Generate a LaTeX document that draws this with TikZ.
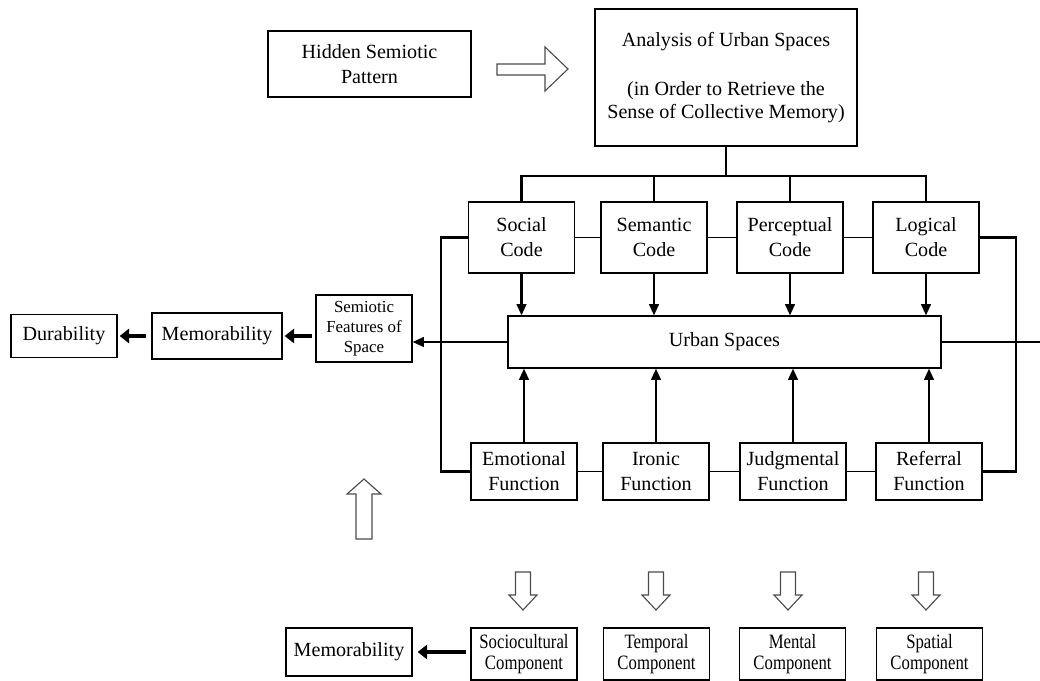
\documentclass[tikz,border=0pt]{standalone}
\usepackage{fontspec}
\setmainfont{Liberation Serif}
\newfontfamily\narrowserif[FakeStretch=0.82]{Liberation Serif}
\usepackage{tikz}
\usetikzlibrary{arrows.meta,calc}

\newcommand{\pu}{0.025cm}
\tikzset{
  blk/.style={draw, line width=0.9pt, align=center, inner sep=1pt,
    font=\fontsize{14.3}{17.8}\selectfont},
  codeblk/.style={blk, minimum width=106*\pu, minimum height=71*\pu},
  funblk/.style={blk, minimum width=106*\pu, minimum height=57*\pu},
  compblk/.style={blk, minimum width=106*\pu, minimum height=52*\pu,
    font=\narrowserif\fontsize{14.5}{15}\selectfont},
  heavy/.style={line width=1.6pt},
  thinlink/.style={line width=0.8pt},
  tiplink/.style={heavy, -{Triangle[length=2.8mm,width=2.4mm]}},
  fatlink/.style={line width=2.8pt, -{Triangle[length=2.4mm,width=3.6mm]}},
  hollow/.style={draw=black!70, line width=0.8pt, fill=white, line join=miter},
}

\begin{document}
\begin{tikzpicture}[x=\pu, y=-\pu]
    \useasboundingbox (0,0) rectangle (1040,681);
    % Top row
    \node[blk, minimum width=203*\pu, minimum height=66*\pu] (hidden) at (369.5,64) {Hidden Semiotic\\Pattern};
    \node[blk, minimum width=262*\pu, minimum height=137*\pu, font=\fontsize{14.3}{16.5}\selectfont] (analysis) at (726,77.5)
      {Analysis of Urban Spaces\\[18pt](in Order to Retrieve the\\Sense of Collective Memory)};
    % Codes
    \node[codeblk] (social) at (521.5,237.5) {Social\\Code};
    \node[codeblk] (semantic) at (654,237.5) {Semantic\\Code};
    \node[codeblk] (perceptual) at (790,237.5) {Perceptual\\Code};
    \node[codeblk] (logical) at (926,237.5) {Logical\\Code};
    % Urban spaces
    \node[blk, minimum width=433*\pu, minimum height=52*\pu] (urban) at (724.5,342) {Urban Spaces};
    % Functions
    \node[funblk] (emotional) at (524,471.5) {Emotional\\Function};
    \node[funblk] (ironic) at (656,471.5) {Ironic\\Function};
    \node[funblk] (judgmental) at (793,471.5) {Judgmental\\Function};
    \node[funblk] (referral) at (929,471.5) {Referral\\Function};
    % Left side
    \node[blk, minimum width=96*\pu, minimum height=67*\pu, font=\fontsize{12}{14.2}\selectfont] (semiotic) at (364,328.5)
      {Semiotic\\Features of\\Space};
    \node[blk, minimum width=130*\pu, minimum height=46*\pu] (memtop) at (217,336) {Memorability};
    \node[blk, minimum width=106*\pu, minimum height=43*\pu] (durability) at (64,336) {Durability};
    % Bottom row
    \node[blk, minimum width=126*\pu, minimum height=48*\pu] (membot) at (349,652) {Memorability};
    \node[compblk] (socio) at (524,654) {Sociocultural\\Component};
    \node[compblk] (temporal) at (656.5,654) {Temporal\\Component};
    \node[compblk] (mental) at (792.5,654) {Mental\\Component};
    \node[compblk] (spatial) at (929.5,654) {Spatial\\Component};

    % Bus under analysis
    \coordinate (bus) at (726,176);
    \draw[heavy] (analysis.south) -- (bus);
    \foreach \n in {social,semantic,perceptual,logical}
      \draw[heavy] (bus) -| (\n.north);
    % Thin links in rows
    \foreach \a/\b in {social/semantic,semantic/perceptual,perceptual/logical,
                       emotional/ironic,ironic/judgmental,judgmental/referral}
      \draw[thinlink] (\a) -- (\b);
    % Side loops
    \draw[heavy] (social.west) -- ++(-27,0) |- (emotional.west);
    \draw[heavy] (logical.east) -- ++(36,0) |- (referral.east);
    % Arrows into urban spaces
    \foreach \n in {social,semantic,perceptual,logical}
      \draw[tiplink] (\n.south) -- (\n.south |- urban.north);
    \foreach \n in {emotional,ironic,judgmental,referral}
      \draw[tiplink] (\n.north) -- (\n.north |- urban.south);
    % Out of urban spaces
    \coordinate (rim) at (1040,342);
    \draw[heavy] (urban.east) -- (rim);
    \draw[tiplink] (urban.west) -- (urban.west -| semiotic.east);
    \draw[fatlink, shorten <=0.75mm, shorten >=0.5mm] (memtop.east -| semiotic.west) -- (memtop.east);
    \draw[fatlink, shorten <=1.25mm, shorten >=0.5mm] (memtop.west) -- (durability.east);
    \draw[fatlink, shorten <=1mm, shorten >=1.25mm] (socio.west |- membot.east) -- (membot.east);

    % Hollow arrows
    \draw[hollow] (497,64) -- (545,64) -- (545,47) -- (568,69) -- (545,91) -- (545,75) -- (497,75) -- cycle;
    \draw[hollow] (356,539) -- (356,494) -- (347,494) -- (364,479) -- (381,494) -- (372,494) -- (372,539) -- cycle;
    \foreach \cx in {523,656,788,926}
      \draw[hollow] (\cx-7.5,572) -- (\cx+7.5,572) -- (\cx+7.5,595) -- (\cx+14,595) -- (\cx,610)
        -- (\cx-14,595) -- (\cx-7.5,595) -- cycle;
  \end{tikzpicture}
\end{document}
